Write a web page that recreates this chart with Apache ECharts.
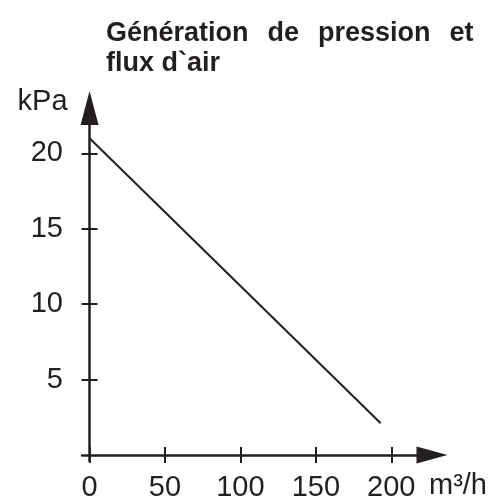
<!DOCTYPE html>
<html>
<head>
<meta charset="utf-8">
<script src="https://cdn.jsdelivr.net/npm/echarts@6/dist/echarts.min.js"></script>
<style>html,body{margin:0;padding:0;background:#fff;}#c{width:493px;height:497px;}</style>
</head>
<body>
<div id="c"></div>
<script>
var titleWords1 = ['Génération', 'de', 'pression', 'et'];
var titleLine2 = 'flux d`air';
var yAxisName = 'kPa';
var xAxisName = 'm³/h';
var xTicks = [0, 50, 100, 150, 200];
var yTicks = [5, 10, 15, 20];
var flowValues = [0, 193];
var pressureValues = [21, 2.1];

var ink = '#231f20';
var font = 'Liberation Sans';
var lineData = flowValues.map(function (x, i) { return [x, pressureValues[i]]; });
var titleText = titleWords1.join('{g| }') + '\n' + titleLine2;

var chart = echarts.init(document.getElementById('c'), null, {renderer: 'canvas'});
chart.setOption({
  animation: false,
  backgroundColor: '#fff',
  title: {
    text: titleText,
    left: 101, top: 14,
    textStyle: {
      fontFamily: font, fontWeight: 'bold', fontSize: 27, lineHeight: 30, color: ink,
      rich: {g: {width: 19, fontFamily: font, fontWeight: 'bold', fontSize: 27, lineHeight: 30}}
    }
  },
  grid: {left: 82, right: 61, top: 108, bottom: 36, containLabel: false, outerBoundsMode: 'none'},
  xAxis: [{
    type: 'value', min: -5, max: 227,
    name: xAxisName, nameLocation: 'end', nameGap: -3,
    nameTextStyle: {fontFamily: font, fontSize: 29, color: ink, align: 'left', verticalAlign: 'top', padding: [17, 0, 0, 0]},
    axisLine: {show: true, onZero: true, symbol: ['none', 'triangle'], symbolSize: [17, 31], lineStyle: {color: ink, width: 2.5}},
    axisTick: {show: true, length: 8, customValues: xTicks, lineStyle: {color: ink, width: 2}},
    axisLabel: {show: true, customValues: xTicks, margin: 12, fontFamily: font, fontSize: 29, color: ink},
    splitLine: {show: false}
  }, {
    type: 'value', min: -5, max: 227, position: 'bottom',
    axisLine: {show: false, onZero: true},
    axisTick: {show: true, inside: true, length: 8, customValues: xTicks, lineStyle: {color: ink, width: 2}},
    axisLabel: {show: false},
    splitLine: {show: false}
  }],
  yAxis: [{
    type: 'value', min: -0.4, max: 23,
    name: yAxisName, nameLocation: 'end', nameGap: -8,
    nameTextStyle: {fontFamily: font, fontSize: 29, color: ink, align: 'right', verticalAlign: 'bottom', padding: [0, 22, 0, 0]},
    axisLine: {show: true, onZero: true, symbol: ['none', 'triangle'], symbolSize: [18, 34], lineStyle: {color: ink, width: 2.5}},
    axisTick: {show: true, length: 8, customValues: yTicks, lineStyle: {color: ink, width: 2}},
    axisLabel: {show: true, customValues: yTicks, margin: 19, fontFamily: font, fontSize: 29, color: ink},
    splitLine: {show: false}
  }, {
    type: 'value', min: -0.4, max: 23, position: 'left',
    axisLine: {show: false, onZero: true},
    axisTick: {show: true, inside: true, length: 8, customValues: yTicks, lineStyle: {color: ink, width: 2}},
    axisLabel: {show: false},
    splitLine: {show: false}
  }],
  series: [{
    type: 'line', xAxisIndex: 0, yAxisIndex: 0,
    data: lineData, symbol: 'none',
    lineStyle: {color: ink, width: 2}
  }]
});
</script>
</body>
</html>
